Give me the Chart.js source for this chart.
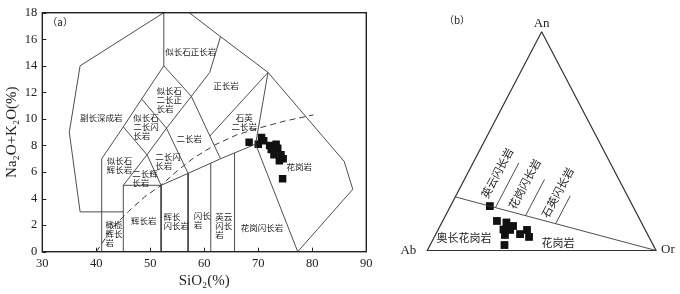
<!DOCTYPE html>
<html><head><meta charset="utf-8">
<script src="https://cdn.jsdelivr.net/npm/chart.js@4.4.1/dist/chart.umd.min.js"></script>
<style>
html,body{margin:0;padding:0;background:#fff;}
#wrap{position:relative;width:680px;height:294px;overflow:hidden;}
#c1{position:absolute;left:0;top:0;}
#c2{position:absolute;left:400px;top:0;}
</style></head><body>
<div id="wrap"><canvas id="c1" width="400" height="294"></canvas><canvas id="c2" width="280" height="294"></canvas></div>
<script>
// ===== (a) TAS diagram data =====
const tasXTicks = [30, 40, 50, 60, 70, 80, 90];
const tasYTicks = [0, 2, 4, 6, 8, 10, 12, 14, 16, 18];
const sampleSiO2 = [68.3, 70.0, 70.6, 71.0, 72.1, 72.4, 73.3, 73.6, 72.9, 74.2, 73.9, 74.6, 74.5];
const sampleAlk  = [8.25, 8.1, 8.6, 8.35, 8.0, 7.7, 8.1, 7.8, 7.3, 7.3, 6.85, 7.0, 5.5];
// field boundaries (SiO2, Na2O+K2O)
const fieldBoundaries = [
  [[52.5,18],[37,14],[35,9],[37,3],[45,3]],
  [[41,0],[41,7],[45,9.4],[48.4,11.5],[52.5,14],[52.5,18]],
  [[45,0],[45,5],[52,5],[52,0]],
  [[45,5],[49.4,7.3],[53,9.3],[57.6,11.7],[61,13.5],[63,16.2]],
  [[45,9.4],[49.4,7.3],[52,5],[57,5.9],[63,7],[69.5,8.1],[77.3,0]],
  [[48.4,11.5],[53,9.3],[57,5.9],[57,0]],
  [[52.5,14],[57.6,11.7],[63,7]],
  [[61,8.7],[71.8,13.5],[69.5,8.1]],
  [[57.2,18],[63,16.2],[71.8,13.5],[85.9,6.8],[87.5,4.7],[77.3,0]],
  [[61.2,0],[61.2,6.67]],
  [[65.6,0],[65.6,7.43]]
];
// alkaline / subalkaline dividing curve
const dividerSiO2 = [40, 43, 46, 49, 52, 55, 58, 62, 66, 70, 75, 80.2];
const dividerAlk  = [0, 1.8, 3.05, 4.15, 5.0, 6.1, 7.05, 8.05, 8.8, 9.3, 9.85, 10.3];
const fieldLabels = [
  {text:'副长深成岩', at:[40.9,10.1], align:'left'},
  {text:'似长石正长岩', at:[57.5,15.06], align:'left'},
  {text:'似长石\n二长正\n长岩', at:[53.5,11.44], align:'left'},
  {text:'似长石\n二长闪\n长岩', at:[49.2,9.41], align:'left'},
  {text:'正长岩', at:[64.0,12.48], align:'left'},
  {text:'二长岩', at:[57.2,8.54], align:'left'},
  {text:'石英\n二长岩', at:[67.4,9.77], align:'center'},
  {text:'似长石\n辉长岩', at:[44.3,6.53], align:'left'},
  {text:'二长闪\n长岩', at:[53.3,6.78], align:'left'},
  {text:'二长辉\n长岩', at:[49.0,5.53], align:'left'},
  {text:'辉长岩', at:[48.8,2.33], align:'left'},
  {text:'橄榄\n辉长\n岩', at:[43.3,1.33], align:'left'},
  {text:'辉长\n闪长岩', at:[54.8,2.31], align:'left'},
  {text:'闪长\n岩', at:[59.6,2.35], align:'left'},
  {text:'英云\n闪长\n岩', at:[63.6,1.94], align:'left'},
  {text:'花岗闪长岩', at:[70.7,1.81], align:'left'},
  {text:'花岗岩', at:[77.6,6.4], align:'left'}
];
const panelA = '（a）';

// ===== (b) An-Ab-Or diagram data (percent) =====
const triangleAn = [100, 0, 0, 100];
const triangleAb = [0, 100, 0, 0];
const triangleOr = [0, 0, 100, 0];
const ternBoundaries = [
  [[24.5,75.5,0],[0,0,100]],
  [[19.6,60.4,20],[40,40,20]],
  [[15.9,49.1,35],[32.5,32.5,35]],
  [[12.25,37.75,50],[25,25,50]]
];
const sampleAn = [20.3, 13.5, 12.8, 9.6, 11.2, 7.1, 7.5, 9.4, 6.2, 2.5, 9.4];
const sampleAb = [62.5, 62.8, 59.0, 61.9, 56.9, 62.5, 55.7, 51.7, 52.4, 65.0, 59.1];
const sampleOr = [17.2, 23.7, 28.2, 28.5, 31.9, 30.4, 36.8, 38.9, 41.4, 32.5, 31.5];
const ternLabels = [
  {text:'英云闪长岩', at:[35.4,51.8,12.8], rot:-62},
  {text:'花岗闪长岩', at:[30.4,42.3,27.3], rot:-62},
  {text:'石英闪长岩', at:[26.5,29.8,43.7], rot:-62},
  {text:'奥长花岗岩', at:[5.7,81.1,13.2], rot:0},
  {text:'花岗岩', at:[3.4,41.2,55.4], rot:0}
];
const vertexNames = ['An', 'Ab', 'Or'];
const panelB = '（b）';

// ===== helpers =====
const LINE = '#3a3a3a';
const SERIF = '"Liberation Serif", "Times New Roman", serif';
const CJK = '"Noto Sans CJK SC", sans-serif';
const pts = arr => arr.map(p => ({x:p[0], y:p[1]}));
const tern = (an, ab, or) => { const s = an + ab + or; return {x:(or + an/2)/s, y:an/s}; };
const lineDs = (data, extra) => Object.assign({type:'scatter', data, showLine:true, pointRadius:0, borderColor:LINE, borderWidth:0.9, fill:false, clip:false}, extra||{});

// ===== chart (a) =====
const tasDatasets = fieldBoundaries.map(b => lineDs(pts(b)));
tasDatasets.push(lineDs(dividerSiO2.map((v,i)=>({x:v,y:dividerAlk[i]})), {borderDash:[6,4], borderWidth:1}));
tasDatasets.push({type:'scatter', data: sampleSiO2.map((v,i)=>({x:v,y:sampleAlk[i]})), pointStyle:'rect', pointRadius:5.3, backgroundColor:'#111', borderColor:'#111', borderWidth:0});

const tasPlugin = {
  id:'tasDeco',
  afterDraw(chart){
    const {ctx, chartArea:a, scales:{x,y}} = chart;
    ctx.save();
    ctx.strokeStyle = '#222'; ctx.lineWidth = 1;
    ctx.beginPath();
    tasXTicks.forEach(v => { const p = Math.round(x.getPixelForValue(v))+0.5; ctx.moveTo(p, a.bottom); ctx.lineTo(p, a.bottom-4); });
    tasYTicks.forEach(v => { const p = Math.round(y.getPixelForValue(v))+0.5; ctx.moveTo(a.left, p); ctx.lineTo(a.left+4, p); });
    ctx.stroke();
    ctx.lineWidth = 1.4;
    ctx.strokeRect(a.left, a.top, a.right-a.left, a.bottom-a.top);
    ctx.fillStyle = '#222';
    ctx.font = '8.5px ' + CJK;
    ctx.textBaseline = 'middle';
    const lh = 9;
    fieldLabels.forEach(l => {
      const lines = l.text.split('\n');
      const cx = x.getPixelForValue(l.at[0]), cy = y.getPixelForValue(l.at[1]);
      const w = Math.max(...lines.map(s => ctx.measureText(s).width));
      lines.forEach((s,i) => {
        const yy = cy + (i - (lines.length-1)/2) * lh;
        if (l.align === 'center') { ctx.textAlign = 'center'; ctx.fillText(s, cx, yy); }
        else { ctx.textAlign = 'left'; ctx.fillText(s, cx - w/2, yy); }
      });
    });
    ctx.font = '10px ' + CJK; ctx.textAlign = 'left';
    ctx.fillText(panelA, a.left + 5, a.top + 10);
    ctx.restore();
  }
};

new Chart(document.getElementById('c1'), {
  type:'scatter',
  data:{datasets:tasDatasets},
  options:{
    responsive:false, animation:false,
    layout:{padding:{left:0, top:12.7, right:33.7, bottom:0}},
    plugins:{legend:{display:false}, tooltip:{enabled:false}},
    scales:{
      x:{type:'linear', min:30, max:90,
         afterBuildTicks: s => { s.ticks = tasXTicks.map(v=>({value:v})); },
         afterFit: s => { s.height = 42.3; },
         grid:{display:false, drawTicks:false}, border:{display:false},
         ticks:{font:{family:SERIF, size:12.5}, color:'#222', padding:5},
         title:{display:true, text:'SiO₂(%)', font:{family:SERIF, size:15}, color:'#222', padding:{top:0, bottom:4}}},
      y:{type:'linear', min:0, max:18,
         afterBuildTicks: s => { s.ticks = tasYTicks.map(v=>({value:v})); },
         afterFit: s => { s.width = 42.3; },
         grid:{display:false, drawTicks:false}, border:{display:false},
         ticks:{font:{family:SERIF, size:12.5}, color:'#222', padding:5},
         title:{display:true, text:'Na₂O+K₂O(%)', font:{family:SERIF, size:15}, color:'#222', padding:{top:3, bottom:0}}}
    }
  },
  plugins:[tasPlugin]
});

// ===== chart (b) =====
const ternDatasets = [];
ternDatasets.push(lineDs(triangleAn.map((v,i)=>tern(v, triangleAb[i], triangleOr[i])), {borderWidth:1.2, borderColor:'#333'}));
ternBoundaries.forEach(b => ternDatasets.push(lineDs(b.map(p=>tern(p[0],p[1],p[2])))));
ternDatasets.push({type:'scatter', data: sampleAn.map((v,i)=>tern(v, sampleAb[i], sampleOr[i])), pointStyle:'rect', pointRadius:5.5, backgroundColor:'#111', borderColor:'#111', borderWidth:0, clip:false});

const ternPlugin = {
  id:'ternDeco',
  afterDraw(chart){
    const {ctx, scales:{x,y}} = chart;
    const P = (an,ab,or) => { const t = tern(an,ab,or); return [x.getPixelForValue(t.x), y.getPixelForValue(t.y)]; };
    ctx.save();
    ctx.fillStyle = '#222';
    ctx.font = '13px ' + SERIF;
    ctx.textBaseline = 'middle';
    let p = P(100,0,0); ctx.textAlign='center'; ctx.fillText(vertexNames[0], p[0], p[1]-8);
    p = P(0,100,0); ctx.textAlign='right'; ctx.fillText(vertexNames[1], p[0]-11, p[1]);
    p = P(0,0,100); ctx.textAlign='left'; ctx.fillText(vertexNames[2], p[0]+5, p[1]-1);
    ctx.font = '10px ' + CJK; ctx.textAlign='center';
    ctx.fillText(panelB, 57, 20);
    ctx.font = '11px ' + CJK;
    ternLabels.forEach(l => {
      const q = P(l.at[0], l.at[1], l.at[2]);
      ctx.save(); ctx.translate(q[0], q[1]); ctx.rotate(l.rot*Math.PI/180);
      ctx.textAlign='center'; ctx.fillText(l.text, 0, 0); ctx.restore();
    });
    ctx.restore();
  }
};

new Chart(document.getElementById('c2'), {
  type:'scatter',
  data:{datasets:ternDatasets},
  options:{
    responsive:false, animation:false,
    layout:{padding:{left:27.3, right:24, top:31.7, bottom:43.5}},
    plugins:{legend:{display:false}, tooltip:{enabled:false}},
    scales:{ x:{type:'linear', min:0, max:1, display:false}, y:{type:'linear', min:0, max:1, display:false} }
  },
  plugins:[ternPlugin]
});
</script>
</body></html>
